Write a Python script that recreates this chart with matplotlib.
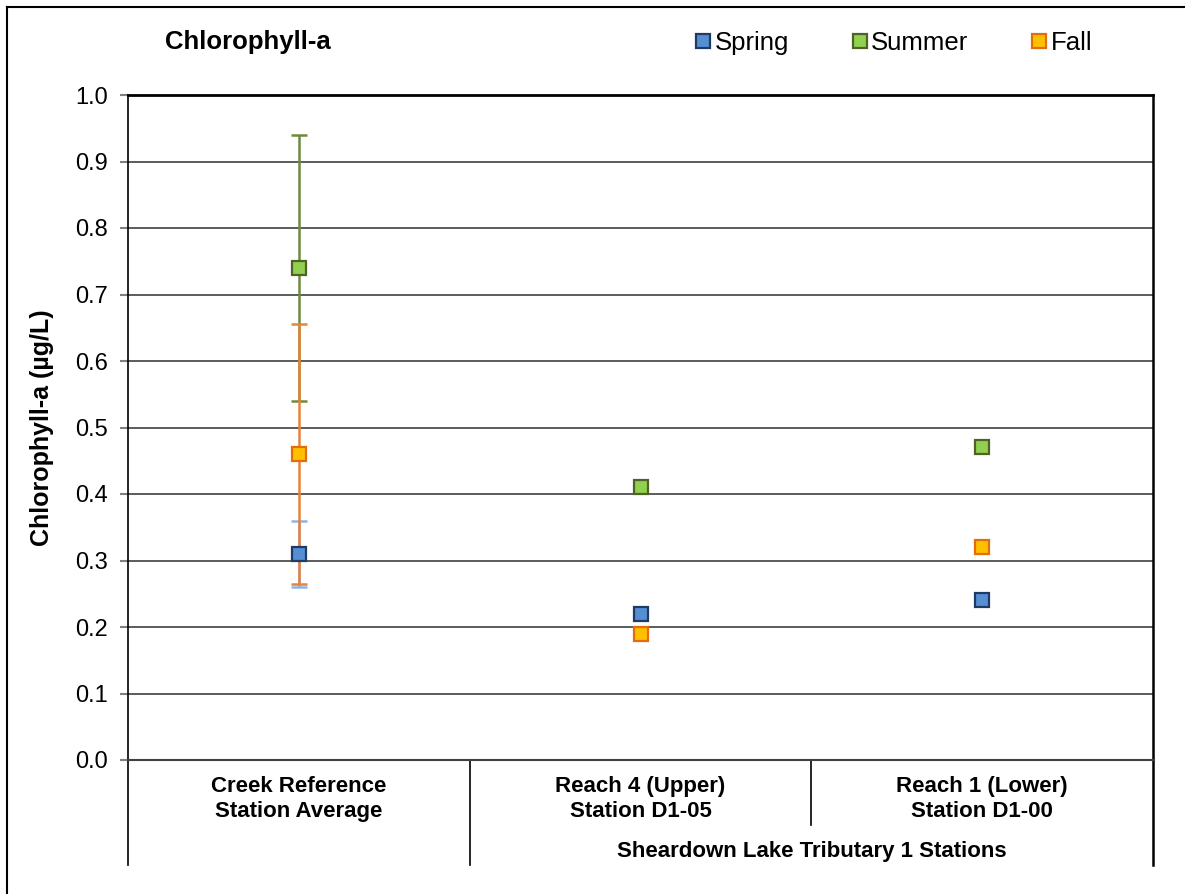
import matplotlib.pyplot as plt
from matplotlib.lines import Line2D

plt.rcParams['font.family'] = ['Liberation Sans', 'DejaVu Sans']

stations = ["Creek Reference\nStation Average",
            "Reach 4 (Upper)\nStation D1-05",
            "Reach 1 (Lower)\nStation D1-00"]
group_label = "Sheardown Lake Tributary 1 Stations"

spring = [0.31, 0.22, 0.24]
summer = [0.74, 0.41, 0.47]
fall = [0.46, 0.19, 0.32]

# std. deviation only for the reference station average
spring_err = 0.05
summer_err = 0.20
fall_err = 0.196

W, H = 1185, 894
fig = plt.figure(figsize=(W / 100, H / 100), dpi=100)
ax = fig.add_axes([128 / W, 1 - 760 / H, (1153 - 128) / W, (760 - 95) / H])

x = list(range(len(stations)))

# error bars on the reference average
ax.errorbar([0], [spring[0]], yerr=spring_err, fmt='none', ecolor='#8EB4E3',
            elinewidth=1.8, capsize=6, capthick=1.8, zorder=3)
ax.errorbar([0], [summer[0]], yerr=summer_err, fmt='none', ecolor='#6E8A3E',
            elinewidth=1.8, capsize=6, capthick=1.8, zorder=3)
ax.errorbar([0], [fall[0]], yerr=fall_err, fmt='none', ecolor='#E8823A',
            elinewidth=1.8, capsize=6, capthick=1.8, zorder=3)

series = [
    ("Spring", spring, '#558ED5', '#1F3B63'),
    ("Summer", summer, '#92D050', '#4F6228'),
    ("Fall", fall, '#FFC000', '#E46C0A'),
]
for name, vals, fc, ec in series:
    ax.plot(x, vals, linestyle='none', marker='s', markersize=10,
            markerfacecolor=fc, markeredgecolor=ec, markeredgewidth=1.6,
            label=name, zorder=5)

ax.set_xlim(-0.5, 2.5)
ax.set_ylim(0, 1.0)
ax.set_yticks([i / 10 for i in range(11)])
ax.set_yticklabels([f"{i / 10:.1f}" for i in range(11)], fontsize=17)
ax.tick_params(axis='y', length=6, pad=8.5, color='#808080', width=1.5)
ax.set_xticks([])
ax.grid(axis='y', color='#404040', linewidth=1.2)
ax.set_axisbelow(True)

ax.spines['right'].set_visible(False)
ax.spines['left'].set_linewidth(1.2)
ax.spines['bottom'].set_color('#404040')
ax.spines['bottom'].set_linewidth(1.5)
ax.spines['top'].set_linewidth(2)

ax.set_ylabel("Chlorophyll-a (µg/L)", fontsize=18, fontweight='bold', labelpad=15)

# category table under the plot
trans = ax.get_xaxis_transform()
table_bottom = (760 - 865) / 665
mid_bottom = (760 - 825) / 665
ax.plot([-0.5, -0.5], [0, table_bottom], color='black', lw=1.2, transform=trans, clip_on=False)
ax.plot([2.5, 2.5], [1, table_bottom], color='black', lw=1.8, transform=trans, clip_on=False)
ax.plot([0.5, 0.5], [0, table_bottom], color='black', lw=1.2, transform=trans, clip_on=False)
ax.plot([1.5, 1.5], [0, mid_bottom], color='black', lw=1.2, transform=trans, clip_on=False)

cat_font = dict(fontweight='bold', fontsize=16, ha='center', va='center', linespacing=1.2)
for xi, label in zip(x, stations):
    ax.text(xi, (760 - 799) / 665, label, transform=trans, **cat_font)
ax.text(1.5, (760 - 852) / 665, group_label, transform=trans, **cat_font)

fig.text(165 / W, 1 - 42 / H, "Chlorophyll-a", fontsize=18.5, fontweight='bold',
         ha='left', va='center')

handles = [Line2D([], [], linestyle='none', marker='s', markersize=10,
                  markerfacecolor=fc, markeredgecolor=ec, markeredgewidth=1.6)
           for _, _, fc, ec in series]
fig.legend(handles, [s[0] for s in series], loc='center left',
           bbox_to_anchor=(694 / W, 1 - 43 / H), ncol=3, frameon=False,
           fontsize=18.5, handlelength=0.7, handletextpad=0.1, columnspacing=2.4,
           borderpad=0, borderaxespad=0)

# outer frame
fig.add_artist(Line2D([7 / W, 7 / W], [0, 1 - 7 / H], color='black', lw=1.5))
fig.add_artist(Line2D([7 / W, 1], [1 - 7 / H, 1 - 7 / H], color='black', lw=1.5))

fig.savefig("out.png", dpi=100)
